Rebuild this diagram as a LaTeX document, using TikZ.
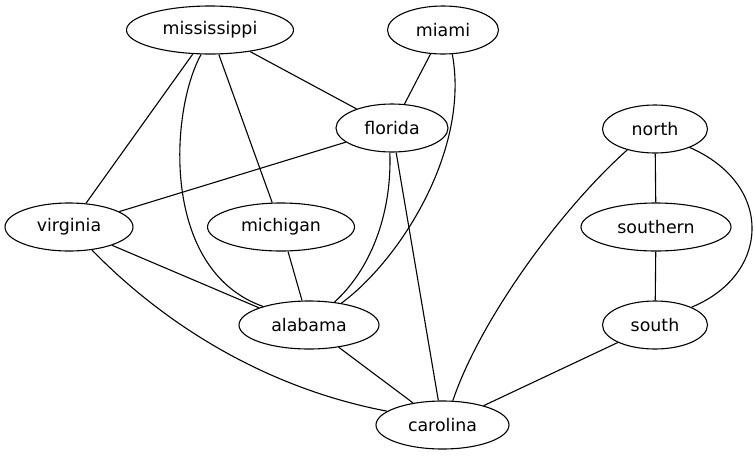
\documentclass[tikz,border=0pt]{standalone}
\usepackage{fontspec}
\setmainfont{DejaVu Sans}
\usetikzlibrary{shapes.geometric}
\tikzset{
  gnode/.style={ellipse, draw, line width=1.1pt, inner sep=0pt, minimum height=48pt,
    font=\fontsize{17.4}{20}\selectfont},
  gedge/.style={line width=1.1pt}
}
\begin{document}
\begin{tikzpicture}[x=1pt,y=-1pt]
\useasboundingbox (0,0) rectangle (755,456);
\node[gnode, minimum width=167pt] (mississippi) at (210,30) {mississippi};
\node[gnode, minimum width=111pt] (miami) at (443,30) {miami};
\node[gnode, minimum width=112pt] (florida) at (392,128) {florida};
\node[gnode, minimum width=105pt] (north) at (655,129) {north};
\node[gnode, minimum width=128pt] (virginia) at (69,227) {virginia};
\node[gnode, minimum width=147pt] (michigan) at (281,227) {michigan};
\node[gnode, minimum width=150pt] (southern) at (656,227) {southern};
\node[gnode, minimum width=140pt] (alabama) at (309,325) {alabama};
\node[gnode, minimum width=105pt] (south) at (655,325) {south};
\node[gnode, minimum width=133pt] (carolina) at (442.5,425) {carolina};

\draw[gedge] (mississippi) -- (virginia);
\draw[gedge] (mississippi) -- (michigan);
\draw[gedge] (mississippi) -- (florida);
\draw[gedge] (mississippi.250) .. controls (170,110) and (160,270) .. (alabama.158);
\draw[gedge] (miami) -- (florida);
\draw[gedge] (miami.291) .. controls (470,150) and (400,260) .. (alabama.34);
\draw[gedge] (florida) -- (virginia);
\draw[gedge] (florida.265) .. controls (392,215) and (370,270) .. (alabama.42);
\draw[gedge] (florida) -- (carolina);
\draw[gedge] (virginia) -- (alabama.161);
\draw[gedge] (virginia.315) .. controls (150,310) and (250,385) .. (carolina.166);
\draw[gedge] (michigan) -- (alabama);
\draw[gedge] (alabama) -- (carolina);
\draw[gedge] (north) -- (southern);
\draw[gedge] (southern) -- (south);
\draw[gedge] (north.217) .. controls (560,210) and (480,320) .. (carolina.67);
\draw[gedge] (north.332) .. controls (775,185) and (770,275) .. (south.26);
\draw[gedge] (south) -- (carolina);
\end{tikzpicture}
\end{document}
